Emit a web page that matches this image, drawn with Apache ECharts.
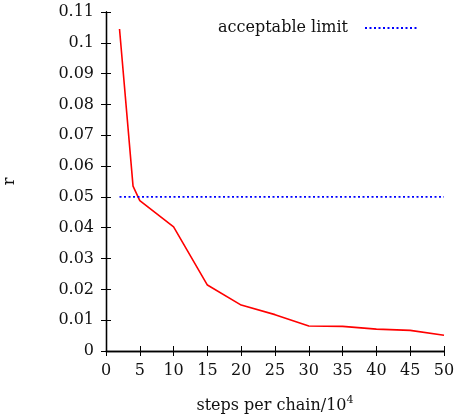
<!DOCTYPE html>
<html><head><meta charset="utf-8">
<script src="https://cdn.jsdelivr.net/npm/echarts@6/dist/echarts.min.js"></script>
<style>html,body{margin:0;padding:0;background:#fff}#c{width:459px;height:415px}</style>
</head><body><div id="c"></div>
<script>
const steps = [2, 4, 5, 10, 15, 20, 25, 30, 35, 40, 45, 50];
const rValues = [0.1045, 0.0535, 0.0488, 0.0403, 0.0214, 0.0149, 0.0118, 0.0081, 0.0080, 0.0071, 0.0067, 0.0051];
const limitX = [2, 50];
const limitY = [0.05, 0.05];
const xTicks = [0, 5, 10, 15, 20, 25, 30, 35, 40, 45, 50];
const yTicks = [0, 0.01, 0.02, 0.03, 0.04, 0.05, 0.06, 0.07, 0.08, 0.09, 0.1, 0.11];

const FONT = '"DejaVu Serif", serif';
const FS = 16;
const chart = echarts.init(document.getElementById('c'));
const common = {
  axisLine: { show: true, lineStyle: { color: '#000', width: 1.3 } },
  axisTick: { show: true, inside: true, length: 5, lineStyle: { color: '#000', width: 1 } },
  splitLine: { show: false }
};
chart.setOption({
  animation: false,
  backgroundColor: '#fff',
  textStyle: { fontFamily: FONT },
  grid: { left: 106, right: 15, top: 12, bottom: 64, containLabel: false, outerBoundsMode: 'none' },
  legend: {
    data: ['acceptable limit'],
    top: 15, right: 35, align: 'right',
    itemWidth: 53, itemHeight: 10,
    itemGap: 0,
    itemStyle: { opacity: 0 },
    textStyle: { fontFamily: FONT, fontSize: FS, color: '#111', padding: [0, 12, 0, 0] }
  },
  xAxis: [
    Object.assign({}, common, {
      type: 'value', min: xTicks[0], max: xTicks[xTicks.length - 1], interval: 5,
      position: 'bottom',
      axisLabel: { color: '#111', fontSize: FS, fontFamily: FONT, margin: 12 },
      name: 'steps per chain/10{sup|4}', nameLocation: 'middle', nameGap: 44,
      nameTextStyle: { color: '#111', fontSize: FS, fontFamily: FONT,
        rich: { sup: { fontSize: 11, verticalAlign: 'top', padding: [0, 0, 10, 0], fontFamily: FONT, color: '#111' } } }
    }),
    Object.assign({}, common, {
      type: 'value', min: xTicks[0], max: xTicks[xTicks.length - 1], interval: 5,
      position: 'top', axisLabel: { show: false }
    })
  ],
  yAxis: [
    Object.assign({}, common, {
      type: 'value', min: yTicks[0], max: yTicks[yTicks.length - 1], interval: 0.01,
      position: 'left',
      axisLabel: { color: '#111', fontSize: FS, fontFamily: FONT, margin: 12,
        formatter: v => String(parseFloat(v.toFixed(2))) },
      name: 'r', nameLocation: 'middle', nameGap: 88, nameRotate: 90,
      nameTextStyle: { color: '#111', fontSize: FS, fontFamily: FONT }
    }),
    Object.assign({}, common, {
      type: 'value', min: yTicks[0], max: yTicks[yTicks.length - 1], interval: 0.01,
      position: 'right', axisLabel: { show: false }
    })
  ],
  series: [
    {
      name: 'r', type: 'line', xAxisIndex: 0, yAxisIndex: 0,
      data: steps.map((s, i) => [s, rValues[i]]),
      showSymbol: false, symbol: 'none',
      lineStyle: { color: '#ff0000', width: 1.6 }, itemStyle: { color: '#ff0000' }
    },
    {
      name: 'acceptable limit', type: 'line', xAxisIndex: 0, yAxisIndex: 0,
      data: limitX.map((s, i) => [s, limitY[i]]),
      showSymbol: false, symbol: 'none',
      lineStyle: { color: '#0000ff', width: 1.6, type: [2, 2.5] }, itemStyle: { color: '#0000ff' }
    }
  ]
});
</script></body></html>
